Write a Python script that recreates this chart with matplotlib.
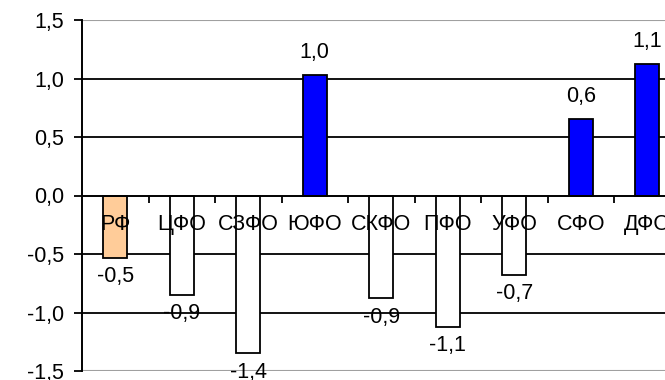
import matplotlib
matplotlib.use("Agg")
import matplotlib.pyplot as plt
from matplotlib.ticker import FixedLocator, NullFormatter

categories = ["РФ", "ЦФО", "СЗФО", "ЮФО", "СКФО", "ПФО", "УФО", "СФО", "ДФО"]
values = [-0.53, -0.85, -1.35, 1.03, -0.88, -1.12, -0.68, 0.65, 1.12]
labels = ["-0,5", "-0,9", "-1,4", "1,0", "-0,9", "-1,1", "-0,7", "0,6", "1,1"]
yticks = [-1.5, -1.0, -0.5, 0.0, 0.5, 1.0, 1.5]
ytick_labels = ["-1,5", "-1,0", "-0,5", "0,0", "0,5", "1,0", "1,5"]

plt.rcParams['font.family'] = ['Liberation Sans', 'DejaVu Sans']
fs = 15.5

W, H = 665, 380
fig = plt.figure(figsize=(W / 100, H / 100), dpi=100)
left = 82 / W
width = 9 * 66.5 / W
top = 20 / H
bottom = 371 / H
ax = fig.add_axes([left, 1 - bottom, width, bottom - top])

colors = []
for i, v in enumerate(values):
    if i == 0:
        colors.append("#FFCC99")
    elif v > 0:
        colors.append("#0000FF")
    else:
        colors.append("#FFFFFF")

x = list(range(len(categories)))
ax.bar(x, values, width=0.36, color=colors, edgecolor="black", linewidth=1.3, zorder=3)

ax.set_xlim(-0.5, len(categories) - 0.5)
ax.set_ylim(-1.5, 1.5)

ax.set_yticks(yticks)
ax.set_yticklabels(ytick_labels, fontsize=fs)
ax.tick_params(axis='y', direction='out', length=6, width=1.3, color='black', pad=7)

for y in yticks:
    if y in (-1.5, 1.5):
        ax.axhline(y, color="#A0A0A0", linewidth=1.5, zorder=1)
    elif y != 0:
        ax.axhline(y, color="black", linewidth=1.3, zorder=1)

for s in ["top", "right"]:
    ax.spines[s].set_visible(False)
ax.spines["left"].set_color("black")
ax.spines["left"].set_linewidth(1.4)
ax.spines["bottom"].set_position(("data", 0))
ax.spines["bottom"].set_color("black")
ax.spines["bottom"].set_linewidth(1.4)
ax.spines["bottom"].set_zorder(4)

ax.set_xticks(x)
ax.set_xticklabels([])
ax.tick_params(axis='x', which='major', length=0)
ax.xaxis.set_minor_locator(FixedLocator([i + 0.5 for i in range(len(categories) - 1)]))
ax.xaxis.set_minor_formatter(NullFormatter())
ax.tick_params(axis='x', which='minor', direction='out', length=5, width=1.3, color='black')

for xi, cat in zip(x, categories):
    ax.annotate(cat, (xi, 0), xytext=(0, -21), textcoords="offset points",
                ha="center", va="center", fontsize=fs, zorder=6,
                annotation_clip=False)

for xi, v, lab in zip(x, values, labels):
    if v >= 0:
        ax.annotate(lab, (xi, v), xytext=(0, 16.5), textcoords="offset points",
                    ha="center", va="center", fontsize=fs, zorder=6)
    else:
        ax.annotate(lab, (xi, v), xytext=(0, -13.5), textcoords="offset points",
                    ha="center", va="center", fontsize=fs, zorder=6,
                    annotation_clip=False)

fig.savefig("out.png", dpi=100)
